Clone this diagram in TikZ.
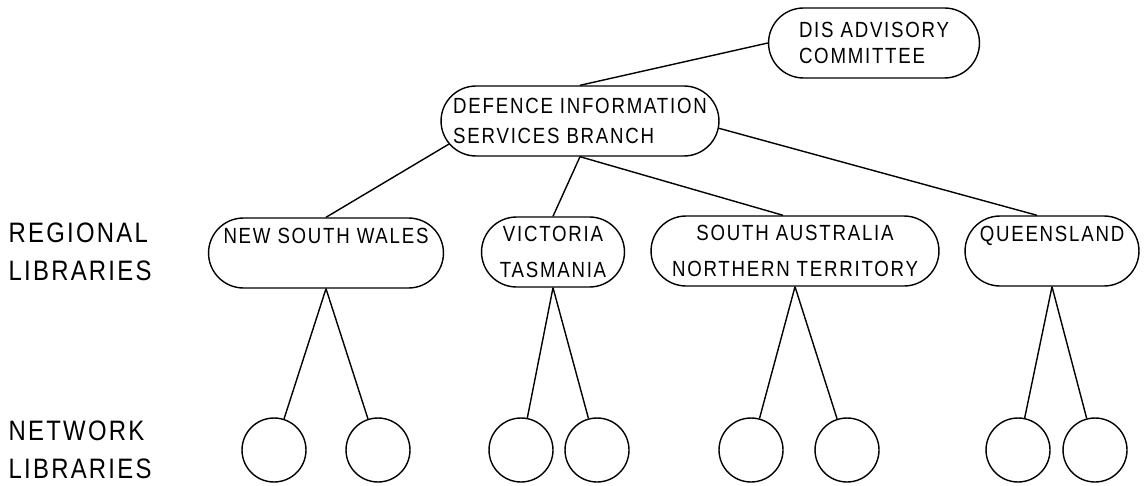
\documentclass[tikz,border=0pt]{standalone}
\usepackage{fontspec}
\setmainfont{Liberation Sans}[FakeStretch=0.85,LetterSpace=8]
\usetikzlibrary{shapes.misc}

\begin{document}
\begin{tikzpicture}[x=0.02cm, y=-0.02cm, line width=0.8pt,
        box/.style={rounded rectangle, draw=black, minimum height=1.4cm, inner sep=2pt,
          font=\fontsize{12.5}{20}\selectfont, align=center},
        leaf/.style={circle, draw=black, minimum size=1.28cm, inner sep=0pt},
        tier/.style={anchor=west, align=left, inner sep=0pt, font=\fontsize{16}{21.5}\selectfont},
        edge_style/.style={draw=black, line width=0.8pt}]
        \useasboundingbox (0,0) rectangle (1148,486);
        \node[box, minimum width=4.36cm, align=left, font=\fontsize{12.5}{14.5}\selectfont] (dis) at (874,43) {DIS ADVISORY\\COMMITTEE};
        \node[box, minimum width=5.7cm, align=left, font=\fontsize{12.5}{17.5}\selectfont] (def) at (580,121) {DEFENCE INFORMATION\\SERVICES BRANCH};
        \node[box, minimum width=4.84cm] (nsw) at (326,253) {NEW SOUTH WALES\\\mbox{}};
        \node[box, minimum width=3cm] (vic) at (553,252) {VICTORIA\\TASMANIA};
        \node[box, minimum width=5.9cm] (sa) at (795,251) {SOUTH AUSTRALIA\\NORTHERN TERRITORY};
        \node[box, minimum width=3.62cm] (qld) at (1052,251) {QUEENSLAND\\\mbox{}};
        \node[tier] (regional) at (8,252) {REGIONAL\\LIBRARIES};
        \node[tier] (network) at (8,450) {NETWORK\\LIBRARIES};
        \foreach \r/\xa/\xb in {nsw/274/378, vic/521/597, sa/751/847, qld/1018/1095} {
          \node[leaf] (\r-a) at (\xa,450) {};
          \node[leaf] (\r-b) at (\xb,450) {};
          \draw[edge_style] (\r.south) -- (\r-a);
          \draw[edge_style] (\r.south) -- (\r-b);
        }
        \draw[edge_style] (def.north) -- (dis.west);
        \draw[edge_style] (def.190) -- (nsw.north);
        \draw[edge_style] (def.south) -- (vic.north);
        \draw[edge_style] (def.south) -- ([xshift=-0.24cm]sa.north);
        \draw[edge_style] (def.-3) -- ([xshift=-0.3cm]qld.north);
      \end{tikzpicture}
\end{document}
